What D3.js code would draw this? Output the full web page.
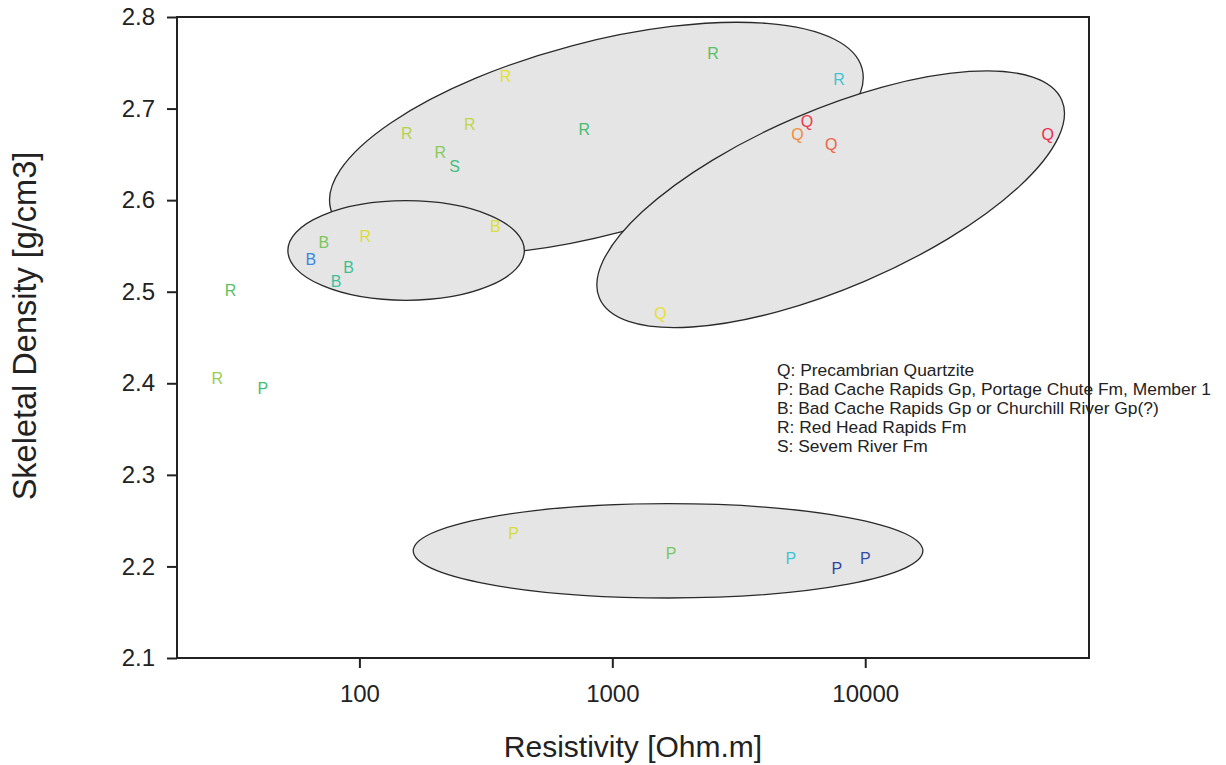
<!DOCTYPE html>
<html>
<head>
<meta charset="utf-8">
<script src="https://cdn.jsdelivr.net/npm/d3@7"></script>
<style>
  body { margin: 0; background: #fff; }
  text { font-family: Arial, "Liberation Sans", sans-serif; }
</style>
</head>
<body>
<div id="chart"></div>
<script>
// ---- data ----
// resistivity [Ohm.m], skeletal density [g/cm3], colour value (0..1) per sample
var qResistivity = [5885, 5400, 7340, 52700, 1550];
var qDensity     = [2.686, 2.672, 2.661, 2.672, 2.476];
var qShade       = [0.98, 0.86, 0.92, 1.0, 0.72];

var pResistivity = [41.5, 407, 1706, 5080, 7730, 10000];
var pDensity     = [2.395, 2.236, 2.214, 2.209, 2.198, 2.209];
var pShade       = [0.48, 0.69, 0.56, 0.30, 0.02, 0.04];

var bResistivity = [72.3, 64.2, 90.7, 80.9, 345];
var bDensity     = [2.554, 2.535, 2.527, 2.511, 2.572];
var bShade       = [0.56, 0.15, 0.42, 0.40, 0.70];

var rResistivity = [30.9, 27.4, 105.6, 153.8, 273, 209, 378, 774, 2500, 7870];
var rDensity     = [2.502, 2.406, 2.561, 2.673, 2.683, 2.652, 2.735, 2.677, 2.760, 2.732];
var rShade       = [0.52, 0.60, 0.70, 0.64, 0.66, 0.58, 0.72, 0.49, 0.52, 0.30];

var sResistivity = [238];
var sDensity     = [2.637];
var sShade       = [0.46];

var unitCodes = ["Q", "P", "B", "R", "S"];
var unitNames = [
  "Q: Precambrian Quartzite",
  "P: Bad Cache Rapids Gp, Portage Chute Fm, Member 1",
  "B: Bad Cache Rapids Gp or Churchill River Gp(?)",
  "R: Red Head Rapids Fm",
  "S: Sevem River Fm"
];

// grouping ellipses: centre [res, dens], end of major axis [res, dens], minor/major ratio
var ellipseCentres = [[865, 2.667], [7300, 2.601], [153, 2.545], [1661, 2.217]];
var ellipseTips    = [[9720, 2.7437], [59900, 2.7092], [449, 2.545], [16900, 2.217]];
var ellipseRatios  = [0.35, 0.353, 0.421, 0.185];

var xTicks = [100, 1000, 10000];
var yTicks = [2.1, 2.2, 2.3, 2.4, 2.5, 2.6, 2.7, 2.8];

// ---- chart ----
var width = 1226, height = 765;
var margin = {top: 17, right: 137, bottom: 107, left: 177};

var svg = d3.select('#chart').append('svg')
    .attr('width', width)
    .attr('height', height);

var x = d3.scaleLog()
    .domain([19.0, 76700])
    .range([margin.left, width - margin.right]);

var y = d3.scaleLinear()
    .domain([2.1, 2.8])
    .range([height - margin.bottom, margin.top]);

var shade = d3.scaleLinear()
    .domain([0, 0.15, 0.3, 0.4, 0.5, 0.62, 0.72, 0.86, 1])
    .range(['#2e3a98', '#3a86e0', '#3ec6d6', '#3cbf9c', '#48bd6a', '#a9cf55', '#e6e035', '#f48a3a', '#ee2a4e'])
    .interpolate(d3.interpolateRgb);

// ellipses
var ellipses = ellipseCentres.map(function(c, i) {
  var cx = x(c[0]), cy = y(c[1]);
  var tx = x(ellipseTips[i][0]), ty = y(ellipseTips[i][1]);
  var a = Math.hypot(tx - cx, ty - cy);
  return {cx: cx, cy: cy, rx: a, ry: a * ellipseRatios[i],
          angle: Math.atan2(ty - cy, tx - cx) * 180 / Math.PI};
});

svg.append('g').selectAll('ellipse')
  .data(ellipses)
  .enter().append('ellipse')
    .attr('transform', function(d) { return 'translate(' + d.cx + ',' + d.cy + ') rotate(' + d.angle + ')'; })
    .attr('rx', function(d) { return d.rx; })
    .attr('ry', function(d) { return d.ry; })
    .style('fill', '#e5e5e5')
    .style('stroke', '#2a2a2a')
    .style('stroke-width', 1.3);

// sample letters
var groups = [
  {code: 'Q', res: qResistivity, den: qDensity, sh: qShade},
  {code: 'P', res: pResistivity, den: pDensity, sh: pShade},
  {code: 'B', res: bResistivity, den: bDensity, sh: bShade},
  {code: 'R', res: rResistivity, den: rDensity, sh: rShade},
  {code: 'S', res: sResistivity, den: sDensity, sh: sShade}
];
var points = [];
groups.forEach(function(g) {
  g.res.forEach(function(r, i) {
    points.push({code: g.code, res: r, den: g.den[i], sh: g.sh[i]});
  });
});

svg.append('g').selectAll('text')
  .data(points)
  .enter().append('text')
    .attr('x', function(d) { return x(d.res); })
    .attr('y', function(d) { return y(d.den); })
    .attr('dy', '0.36em')
    .attr('text-anchor', 'middle')
    .style('font-size', '16px')
    .style('fill', function(d) { return shade(d.sh); })
    .text(function(d) { return d.code; });

// legend text
svg.append('g')
    .attr('transform', 'translate(777,376)')
  .selectAll('text')
  .data(unitNames)
  .enter().append('text')
    .attr('y', function(d, i) { return i * 19; })
    .style('font-size', '17.4px')
    .style('fill', '#222')
    .text(function(d) { return d; });

// axes
var xAxis = svg.append('g')
    .attr('transform', 'translate(0,' + (height - margin.bottom) + ')')
    .call(d3.axisBottom(x).tickValues(xTicks).tickFormat(d3.format('d')).tickSize(10).tickPadding(17));

var yAxis = svg.append('g')
    .attr('transform', 'translate(' + margin.left + ',0)')
    .call(d3.axisLeft(y).tickValues(yTicks).tickFormat(d3.format('.1f')).tickSize(10).tickPadding(12));

[xAxis, yAxis].forEach(function(ax) {
  ax.select('.domain').remove();
  ax.selectAll('line').style('stroke', '#222').style('stroke-width', 2);
  ax.selectAll('text').style('font-size', '24px').style('fill', '#222')
    .style('font-family', 'Arial, "Liberation Sans", sans-serif');
});

// frame
svg.append('rect')
    .attr('x', margin.left)
    .attr('y', margin.top)
    .attr('width', width - margin.left - margin.right)
    .attr('height', height - margin.top - margin.bottom)
    .style('fill', 'none')
    .style('stroke', '#222')
    .style('stroke-width', 2);

// axis titles
svg.append('text')
    .attr('x', (margin.left + width - margin.right) / 2)
    .attr('y', 757)
    .attr('text-anchor', 'middle')
    .style('font-size', '30px')
    .style('fill', '#222')
    .text('Resistivity [Ohm.m]');

svg.append('text')
    .attr('transform', 'translate(36,326) rotate(-90)')
    .attr('text-anchor', 'middle')
    .style('font-size', '32.5px')
    .style('fill', '#222')
    .text('Skeletal Density [g/cm3]');
</script>
</body>
</html>
